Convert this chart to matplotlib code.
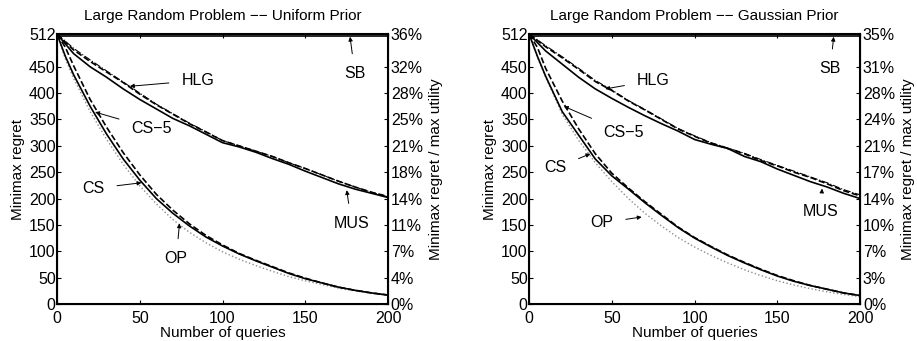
import numpy as np
import matplotlib
matplotlib.use("Agg")
import matplotlib.pyplot as plt

plt.rcParams['font.family'] = ['Liberation Sans', 'DejaVu Sans']

# query counts where values were read
queries = [0, 10, 20, 30, 40, 50, 60, 70, 80, 90, 100,
           110, 120, 130, 140, 150, 160, 170, 180, 190, 200]
queries_fine = [0, 5] + queries[1:]

# ---- Uniform prior ----
uni_sb = [509] * len(queries)
uni_mus = [512, 475, 450, 430, 408, 388, 370, 352, 338, 322, 306,
           298, 288, 276, 265, 252, 240, 228, 218, 210, 202]
uni_hlg = [512, 482, 460, 440, 420, 398, 378, 360, 342, 326, 310,
           300, 290, 280, 268, 257, 245, 233, 222, 212, 204]
uni_hlg_dd = [512, 485, 463, 442, 421, 400, 379, 361, 343, 327, 310,
              300, 290, 280, 268, 257, 245, 233, 222, 212, 203]
uni_cs = [512, 470, 435, 375, 322, 275, 235, 200, 172, 148, 127, 110,
          95, 82, 70, 58, 48, 40, 32, 26, 21, 17]
uni_cs5 = [512, 487, 452, 388, 335, 287, 245, 208, 178, 152, 130, 112,
           96, 83, 71, 59, 49, 40, 32, 26, 21, 17]
uni_op = [512, 465, 428, 365, 312, 265, 224, 190, 160, 136, 116, 99,
          85, 73, 62, 52, 44, 37, 30, 25, 20, 16]
uni_pct = ['0%', '4%', '7%', '11%', '14%', '18%', '21%', '25%', '28%', '32%', '36%']

# ---- Gaussian prior ----
gau_sb = [509] * len(queries)
gau_mus = [512, 480, 455, 430, 408, 390, 373, 357, 342, 328, 312,
           303, 295, 280, 270, 256, 244, 232, 222, 210, 200]
gau_hlg = [512, 488, 467, 445, 422, 405, 385, 368, 350, 332, 318,
           305, 295, 285, 272, 262, 250, 240, 228, 215, 205]
gau_hlg_dd = [512, 490, 469, 447, 424, 406, 386, 369, 351, 333, 319,
              306, 296, 286, 274, 263, 252, 241, 230, 217, 207]
gau_cs = [512, 470, 432, 365, 320, 275, 243, 218, 192, 168, 145, 125,
          108, 92, 78, 65, 53, 43, 35, 28, 21, 16]
gau_cs5 = [512, 487, 447, 385, 332, 285, 248, 220, 194, 170, 146, 126,
           109, 93, 79, 66, 54, 44, 35, 28, 21, 16]
gau_op = [512, 468, 430, 360, 310, 268, 232, 200, 172, 148, 126, 108,
          92, 78, 65, 54, 44, 36, 29, 23, 18, 14]
gau_pct = ['0%', '3%', '7%', '10%', '14%', '17%', '21%', '24%', '28%', '31%', '35%']

yticks = [0, 50, 100, 150, 200, 250, 300, 350, 400, 450, 512]

# annotation: label, text (x, y), arrow tip (x, y)
uni_notes = [("SB", (180, 437), (177, 507)),
             ("HLG", (85, 424), (44, 413)),
             ("CS\u22125", (57, 333), (23, 364)),
             ("CS", (22, 219), (51, 230)),
             ("OP", (72, 86), (74, 153)),
             ("MUS", (178, 153), (175, 216))]
gau_notes = [("SB", (182, 446), (184, 507)),
             ("HLG", (75, 424), (46, 408)),
             ("CS\u22125", (57, 326), (21, 375)),
             ("CS", (16, 258), (37, 285)),
             ("OP", (44, 154), (68, 165)),
             ("MUS", (176, 175), (177, 219))]


def draw_panel(ax, title, sb, mus, hlg, hlg_dd, cs, cs5, op, pct, notes):
    ax.plot(queries_fine, op, color='0.55', ls=':', lw=1.0)
    ax.plot(queries, hlg_dd, color='k', ls='-.', lw=0.8)
    ax.plot(queries, hlg, color='k', ls='--', lw=1.2)
    ax.plot(queries_fine, cs5, color='k', ls='--', lw=1.2)
    ax.plot(queries, mus, color='k', ls='-', lw=1.2)
    ax.plot(queries_fine, cs, color='k', ls='-', lw=1.2)
    ax.plot(queries, sb, color='k', ls='-', lw=1.2)

    ax.set_xlim(0, 200)
    ax.set_ylim(0, 512)
    ax.set_xticks([0, 50, 100, 150, 200])
    ax.set_yticks(yticks)
    ax.tick_params(direction='in', top=True, labelsize=11.5, length=3, pad=1)
    ax.tick_params(axis='x', pad=5)
    for s in ax.spines.values():
        s.set_linewidth(1.5)
    ax.set_xlabel("Number of queries", fontsize=11, labelpad=0)
    ax.set_ylabel("Minimax regret", fontsize=11, labelpad=3)
    ax.set_title(title, fontsize=11, pad=10)

    ax2 = ax.twinx()
    ax2.set_ylim(0, 512)
    ax2.set_yticks(yticks)
    ax2.set_yticklabels(pct)
    ax2.tick_params(direction='in', labelsize=11.5, length=3, pad=2)
    ax2.set_ylabel("Minimax regret / max utility", fontsize=11, labelpad=4)

    for label, txt, tip in notes:
        ax.annotate(label, xy=tip, xytext=txt, fontsize=11.5,
                    ha='center', va='center',
                    arrowprops=dict(arrowstyle='-|>', color='k', lw=0.7,
                                    mutation_scale=6, shrinkA=7, shrinkB=0))


fig = plt.figure(figsize=(9.17, 3.41), dpi=100)
ax_l = fig.add_axes([0.0622, 0.1085, 0.361, 0.7915])
ax_r = fig.add_axes([0.577, 0.1085, 0.361, 0.7915])

draw_panel(ax_l, "Large Random Problem \u2212\u2212 Uniform Prior",
           uni_sb, uni_mus, uni_hlg, uni_hlg_dd, uni_cs, uni_cs5, uni_op,
           uni_pct, uni_notes)
draw_panel(ax_r, "Large Random Problem \u2212\u2212 Gaussian Prior",
           gau_sb, gau_mus, gau_hlg, gau_hlg_dd, gau_cs, gau_cs5, gau_op,
           gau_pct, gau_notes)

fig.savefig("out.png", dpi=100)
